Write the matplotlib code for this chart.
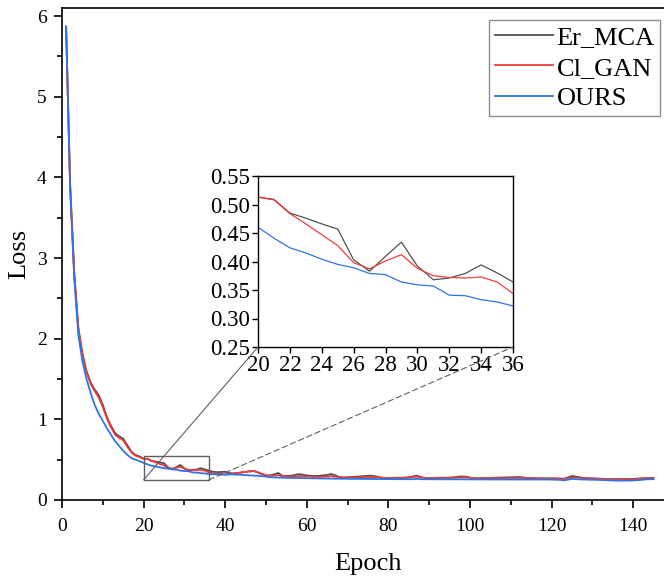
import matplotlib
matplotlib.use("Agg")
import matplotlib.pyplot as plt
from matplotlib.patches import Rectangle, ConnectionPatch
import numpy as np

plt.rcParams['font.family'] = ['Liberation Serif', 'DejaVu Serif']

# datos por epoca (1..145)
epochs = list(range(1, 146))

er_mca = [
    5.87, 3.90, 2.82, 2.14, 1.82, 1.60, 1.46, 1.37, 1.30, 1.18,
    1.03, 0.92, 0.83, 0.79, 0.76, 0.68, 0.60, 0.56, 0.54, 0.513,
    0.509, 0.485, 0.476, 0.466, 0.457, 0.403, 0.383, 0.409, 0.434, 0.392,
    0.368, 0.371, 0.379, 0.394, 0.380, 0.364, 0.350, 0.345, 0.348, 0.350,
    0.335, 0.330, 0.335, 0.342, 0.348, 0.354, 0.358, 0.342, 0.320, 0.305,
    0.305, 0.318, 0.335, 0.300, 0.298, 0.300, 0.310, 0.320, 0.315, 0.305,
    0.300, 0.298, 0.300, 0.305, 0.310, 0.322, 0.305, 0.285, 0.280, 0.282,
    0.285, 0.288, 0.292, 0.296, 0.300, 0.300, 0.292, 0.280, 0.272, 0.272,
    0.275, 0.276, 0.277, 0.278, 0.282, 0.292, 0.302, 0.285, 0.272, 0.272,
    0.273, 0.275, 0.276, 0.276, 0.278, 0.282, 0.288, 0.292, 0.290, 0.278,
    0.270, 0.270, 0.272, 0.274, 0.275, 0.276, 0.277, 0.278, 0.280, 0.282,
    0.284, 0.285, 0.280, 0.274, 0.272, 0.270, 0.268, 0.268, 0.268, 0.268,
    0.268, 0.266, 0.264, 0.280, 0.298, 0.290, 0.280, 0.274, 0.270, 0.268,
    0.266, 0.264, 0.262, 0.260, 0.258, 0.258, 0.258, 0.259, 0.260, 0.262,
    0.265, 0.268, 0.271, 0.273, 0.272,
]

cl_gan = [
    5.87, 3.90, 2.80, 2.12, 1.80, 1.58, 1.44, 1.35, 1.27, 1.15,
    1.01, 0.90, 0.81, 0.77, 0.74, 0.66, 0.59, 0.55, 0.53, 0.513,
    0.508, 0.484, 0.466, 0.447, 0.428, 0.398, 0.387, 0.401, 0.412, 0.388,
    0.375, 0.372, 0.371, 0.373, 0.364, 0.344, 0.335, 0.328, 0.322, 0.318,
    0.320, 0.326, 0.334, 0.342, 0.350, 0.356, 0.360, 0.345, 0.325, 0.306,
    0.300, 0.303, 0.308, 0.296, 0.292, 0.290, 0.292, 0.298, 0.296, 0.292,
    0.288, 0.286, 0.285, 0.288, 0.292, 0.295, 0.290, 0.282, 0.278, 0.276,
    0.276, 0.277, 0.278, 0.280, 0.282, 0.283, 0.280, 0.276, 0.273, 0.272,
    0.272, 0.272, 0.272, 0.273, 0.276, 0.285, 0.290, 0.278, 0.272, 0.270,
    0.270, 0.271, 0.272, 0.272, 0.273, 0.275, 0.278, 0.280, 0.282, 0.276,
    0.270, 0.268, 0.268, 0.269, 0.270, 0.270, 0.270, 0.271, 0.272, 0.273,
    0.274, 0.274, 0.272, 0.270, 0.269, 0.268, 0.267, 0.266, 0.266, 0.266,
    0.266, 0.265, 0.262, 0.268, 0.280, 0.278, 0.272, 0.270, 0.268, 0.266,
    0.264, 0.262, 0.260, 0.258, 0.257, 0.256, 0.256, 0.257, 0.258, 0.259,
    0.262, 0.266, 0.270, 0.272, 0.270,
]

ours = [
    5.87, 3.85, 2.75, 2.05, 1.72, 1.50, 1.33, 1.18, 1.07, 0.98,
    0.89, 0.81, 0.73, 0.67, 0.61, 0.56, 0.52, 0.50, 0.48, 0.460,
    0.441, 0.424, 0.415, 0.404, 0.395, 0.389, 0.379, 0.377, 0.364, 0.359,
    0.357, 0.341, 0.340, 0.333, 0.329, 0.322, 0.320, 0.318, 0.316, 0.314,
    0.318, 0.316, 0.314, 0.312, 0.308, 0.305, 0.303, 0.300, 0.296, 0.290,
    0.282, 0.280, 0.278, 0.276, 0.275, 0.274, 0.273, 0.272, 0.271, 0.270,
    0.269, 0.268, 0.268, 0.267, 0.266, 0.265, 0.265, 0.264, 0.263, 0.263,
    0.262, 0.262, 0.262, 0.261, 0.261, 0.260, 0.260, 0.260, 0.259, 0.259,
    0.259, 0.258, 0.258, 0.258, 0.258, 0.258, 0.262, 0.258, 0.257, 0.257,
    0.257, 0.257, 0.257, 0.257, 0.256, 0.256, 0.256, 0.257, 0.258, 0.256,
    0.255, 0.255, 0.255, 0.255, 0.255, 0.255, 0.255, 0.255, 0.255, 0.255,
    0.255, 0.256, 0.256, 0.255, 0.254, 0.254, 0.254, 0.254, 0.254, 0.253,
    0.252, 0.250, 0.244, 0.252, 0.262, 0.258, 0.255, 0.254, 0.253, 0.252,
    0.250, 0.248, 0.246, 0.244, 0.242, 0.240, 0.240, 0.240, 0.240, 0.241,
    0.245, 0.250, 0.255, 0.258, 0.260,
]

labels = ['Er_MCA', 'Cl_GAN', 'OURS']
colors = ['#505050', '#f03c3c', '#2f74e6']

W, H = 664, 577
fig = plt.figure(figsize=(W / 100, H / 100), dpi=100)

# ejes principales (el borde derecho queda fuera de la imagen)
ax = fig.add_axes([62 / W, 1 - 500 / H, 612 / W, 492 / H])
series = [er_mca, cl_gan, ours]
for s, lab, c in zip(series, labels, colors):
    ax.plot(epochs, s, color=c, lw=1.3, label=lab)

ax.set_xlim(0, 150)
ax.set_ylim(0, 6.1)
ax.set_xticks(np.arange(0, 141, 20))
ax.set_xticks(np.arange(10, 150, 20), minor=True)
ax.set_yticks(np.arange(0, 7, 1))
ax.set_yticks(np.arange(0.5, 6.1, 1), minor=True)
ax.tick_params(which='major', direction='out', length=6, width=1.2, labelsize=14)
ax.tick_params(axis='x', which='major', pad=7)
ax.tick_params(axis='y', which='major', pad=5)
ax.tick_params(which='minor', direction='out', length=3.5, width=1.2)
for sp in ax.spines.values():
    sp.set_linewidth(1.2)
ax.set_xlabel('Epoch', fontsize=19, labelpad=13)
ax.set_ylabel('Loss', fontsize=19, labelpad=5)

ax.legend(loc='upper right', bbox_to_anchor=(660 / W, 1 - 20 / H),
          bbox_transform=fig.transFigure, fontsize=19, frameon=True,
          fancybox=False, edgecolor='#707070', handlelength=2.2,
          handletextpad=0.15, borderpad=0.2, labelspacing=0.28,
          borderaxespad=0)

# rectangulo de zoom
x0, x1, y0, y1 = 20, 36, 0.25, 0.55
ax.add_patch(Rectangle((x0, y0), x1 - x0, y1 - y0, fill=False,
                       edgecolor='#606060', lw=1.0, zorder=5))

# recuadro ampliado
axins = fig.add_axes([258 / W, 1 - 347 / H, 255 / W, 171 / H])
for s, c in zip(series, colors):
    axins.plot(epochs, s, color=c, lw=0.9)
axins.set_xlim(x0, x1)
axins.set_ylim(y0, y1)
axins.set_xticks(np.arange(20, 37, 2))
axins.set_yticks(np.arange(0.25, 0.551, 0.05))
axins.set_yticklabels([f'{v:.2f}' for v in np.arange(0.25, 0.551, 0.05)])
axins.tick_params(direction='out', length=4, width=1.0, labelsize=16.5, pad=2)
for sp in axins.spines.values():
    sp.set_linewidth(1.0)

con1 = ConnectionPatch(xyA=(x0, y0), coordsA=ax.transData,
                       xyB=(0, 0), coordsB=axins.transAxes,
                       color='#606060', lw=0.8)
con2 = ConnectionPatch(xyA=(x1, y0), coordsA=ax.transData,
                       xyB=(1, 0), coordsB=axins.transAxes,
                       color='#606060', lw=0.8, linestyle=(0, (5, 3)))
fig.add_artist(con1)
fig.add_artist(con2)

fig.savefig('out.png', dpi=100)
